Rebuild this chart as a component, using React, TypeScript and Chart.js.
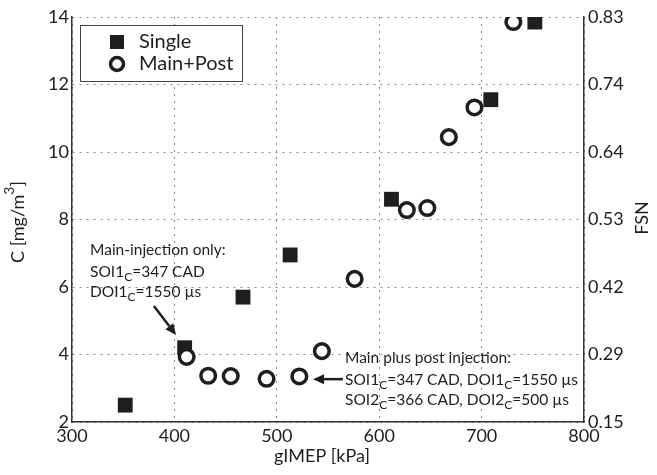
import React, { useEffect, useRef } from "react";
import { Chart, registerables } from "chart.js";

Chart.register(...registerables);

// gIMEP [kPa] and C [mg/m3]
const singleX = [352, 410, 467, 513, 612, 709, 752];
const singleY = [2.5, 4.2, 5.7, 6.95, 8.6, 11.55, 13.85];
const mainPostX = [412, 433, 455, 490, 522, 544, 576, 627, 647, 668, 693, 731];
const mainPostY = [3.93, 3.37, 3.36, 3.28, 3.35, 4.1, 6.24, 8.28, 8.34, 10.44, 11.32, 13.85];
const fsnLabels = ["0.15", "0.29", "0.42", "0.53", "0.64", "0.74", "0.83"];
const seriesNames = ["Single", "Main+Post"];

const FONT = 'Lato, "Open Sans", sans-serif';
const INK = "#1e1e1e";

type Seg = [string, "n" | "sub" | "sup"];

function drawRich(ctx: CanvasRenderingContext2D, segs: Seg[], x: number, y: number, size: number) {
  let cx = x;
  for (const [t, k] of segs) {
    if (k === "n") {
      ctx.font = `${size}px ${FONT}`;
      ctx.fillText(t, cx, y);
    } else {
      const s = Math.round(size * 0.8);
      ctx.font = `${s}px ${FONT}`;
      ctx.fillText(t, cx, k === "sub" ? y + size * 0.35 : y - size * 0.45);
    }
    cx += ctx.measureText(t).width;
  }
}

function arrow(ctx: CanvasRenderingContext2D, x1: number, y1: number, x2: number, y2: number) {
  const ang = Math.atan2(y2 - y1, x2 - x1);
  const head = 11;
  const w = 5;
  const bx = x2 - head * Math.cos(ang);
  const by = y2 - head * Math.sin(ang);
  ctx.strokeStyle = INK;
  ctx.lineWidth = 2.5;
  ctx.beginPath();
  ctx.moveTo(x1, y1);
  ctx.lineTo(bx, by);
  ctx.stroke();
  ctx.fillStyle = INK;
  ctx.beginPath();
  ctx.moveTo(x2, y2);
  ctx.lineTo(bx + w * Math.sin(ang), by - w * Math.cos(ang));
  ctx.lineTo(bx - w * Math.sin(ang), by + w * Math.cos(ang));
  ctx.closePath();
  ctx.fill();
}

const decorPlugin = {
  id: "decor",
  afterDraw(chart: any) {
    const ctx: CanvasRenderingContext2D = chart.ctx;
    const xs = chart.scales.x;
    const ys = chart.scales.y;
    const px = (v: number) => xs.getPixelForValue(v);
    const py = (v: number) => ys.getPixelForValue(v);
    ctx.save();
    ctx.fillStyle = INK;
    ctx.textBaseline = "middle";
    ctx.textAlign = "left";

    // Legend
    const lx = 80.5, ly = 25.5, lw = 162, lh = 56;
    ctx.fillStyle = "#fff";
    ctx.fillRect(lx, ly, lw, lh);
    ctx.strokeStyle = "#444";
    ctx.lineWidth = 1;
    ctx.strokeRect(lx, ly, lw, lh);
    ctx.fillStyle = INK;
    ctx.fillRect(117 - 7, 42 - 7, 14, 14);
    ctx.lineWidth = 3.5;
    ctx.strokeStyle = INK;
    ctx.beginPath();
    ctx.arc(117, 64, 6.5, 0, Math.PI * 2);
    ctx.stroke();
    ctx.font = `20px ${FONT}`;
    ctx.fillText(seriesNames[0], 139, 42);
    ctx.fillText(seriesNames[1], 139, 64);

    // Axis titles
    ctx.textAlign = "center";
    ctx.font = `18px ${FONT}`;
    ctx.fillText("gIMEP [kPa]", 322, 456);

    ctx.save();
    ctx.translate(18, 222);
    ctx.rotate(-Math.PI / 2);
    ctx.textAlign = "left";
    const parts: Seg[] = [["C [mg/m", "n"], ["3", "sup"], ["]", "n"]];
    let tw = 0;
    for (const [t, k] of parts) {
      ctx.font = k === "n" ? `18px ${FONT}` : `14px ${FONT}`;
      tw += ctx.measureText(t).width;
    }
    drawRich(ctx, parts, -tw / 2, 0, 18);
    ctx.restore();

    ctx.save();
    ctx.translate(642, 218);
    ctx.rotate(-Math.PI / 2);
    ctx.textAlign = "center";
    ctx.font = `18px ${FONT}`;
    ctx.fillText("FSN", 0, 0);
    ctx.restore();

    // Annotations
    ctx.textAlign = "left";
    const fs = 15.5;
    const l0 = px(317.6);
    ctx.font = `${fs}px ${FONT}`;
    ctx.fillText("Main-injection only:", l0, py(7.1));
    drawRich(ctx, [["SOI1", "n"], ["C", "sub"], ["=347 CAD", "n"]], l0, py(6.44), fs);
    drawRich(ctx, [["DOI1", "n"], ["C", "sub"], ["=1550 \u00b5s", "n"]], l0, py(5.85), fs);
    arrow(ctx, px(380), py(5.44), px(401.6), py(4.58));

    const r0 = px(566.6);
    ctx.font = `${fs}px ${FONT}`;
    ctx.fillText("Main plus post injection:", r0, py(3.9));
    drawRich(ctx, [["SOI1", "n"], ["C", "sub"], ["=347 CAD, DOI1", "n"], ["C", "sub"], ["=1550 \u00b5s", "n"]], r0, py(3.24), fs);
    drawRich(ctx, [["SOI2", "n"], ["C", "sub"], ["=366 CAD, DOI2", "n"], ["C", "sub"], ["=500 \u00b5s", "n"]], r0, py(2.65), fs);
    arrow(ctx, px(564.6), py(3.27), px(535.4), py(3.27));

    ctx.restore();
  },
};

export default function App() {
  const ref = useRef<HTMLCanvasElement>(null);
  useEffect(() => {
    document.body.style.margin = "0";
    const canvas = ref.current!;
    const grid = { color: "#8a8a8a", lineWidth: 1, drawTicks: false, tickLength: 0 };
    const tickFont = { family: FONT, size: 18 };
    const chart = new Chart(canvas, {
      type: "scatter",
      data: {
        datasets: [
          {
            label: seriesNames[0],
            data: singleX.map((x, i) => ({ x, y: singleY[i] })),
            pointStyle: "rect",
            pointRadius: 10.5,
            pointHoverRadius: 10.5,
            backgroundColor: INK,
            borderColor: INK,
            borderWidth: 0,
            order: 2,
          },
          {
            label: seriesNames[1],
            data: mainPostX.map((x, i) => ({ x, y: mainPostY[i] })),
            pointStyle: "circle",
            pointRadius: 7.3,
            pointHoverRadius: 7.3,
            backgroundColor: "#ffffff",
            borderColor: INK,
            borderWidth: 3.5,
            order: 1,
          },
        ],
      },
      options: {
        responsive: false,
        animation: false,
        devicePixelRatio: 1,
        layout: { padding: { top: 17, left: 0, right: 0, bottom: 0 } },
        plugins: { legend: { display: false }, tooltip: { enabled: false } },
        scales: {
          x: {
            type: "linear",
            min: 300,
            max: 800,
            grid,
            border: { display: true, color: "#333", width: 1.5, dash: [2, 5] },
            ticks: { stepSize: 100, color: INK, font: tickFont, padding: 3, maxRotation: 0 },
            afterFit: (s: any) => { s.height = 53; },
          },
          y: {
            type: "linear",
            position: "left",
            min: 2,
            max: 14,
            grid,
            border: { display: true, color: "#333", width: 1.5, dash: [2, 5] },
            ticks: { stepSize: 2, color: INK, font: tickFont, padding: 3 },
            afterFit: (s: any) => { s.width = 72; },
          },
          y2: {
            type: "linear",
            position: "right",
            min: 2,
            max: 14,
            grid: { display: false, drawOnChartArea: false, drawTicks: false, tickLength: 0 },
            border: { display: true, color: "#333", width: 1.5 },
            ticks: {
              stepSize: 2,
              color: INK,
              font: tickFont,
              padding: 4,
              callback: (_v: any, i: number) => fsnLabels[i],
            },
            afterFit: (s: any) => { s.width = 73; },
          },
        },
      },
      plugins: [decorPlugin],
    } as any);
    return () => chart.destroy();
  }, []);
  return (
    <div style={{ width: 657, height: 475 }}>
      <canvas ref={ref} width={657} height={475} style={{ display: "block" }} />
    </div>
  );
}
